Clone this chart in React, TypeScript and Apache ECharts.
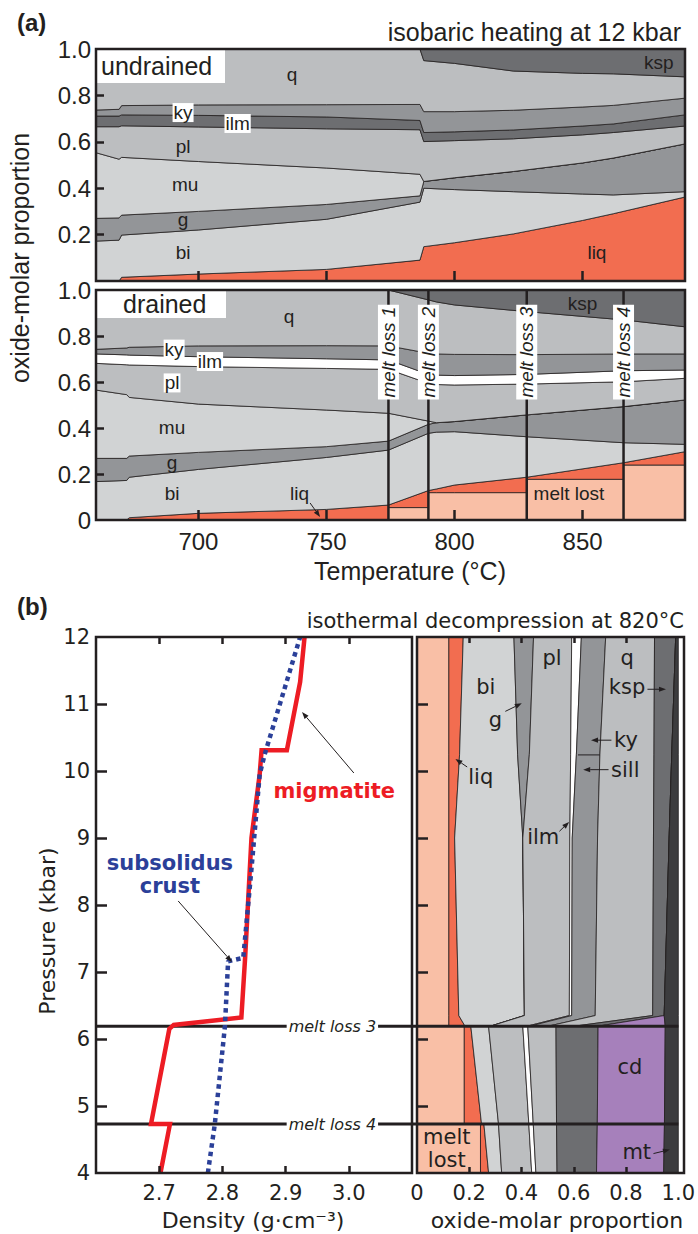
import React, { useEffect, useRef } from "react";
import * as echarts from "echarts";

// ================= (a) isobaric heating at 12 kbar — undrained =================
const T_UNDRAINED = [660, 669, 670, 700, 750, 786.5, 788, 800, 823, 850, 862, 890];
const UND_LIQ = [0, 0, 0.016, 0.03, 0.05, 0.09, 0.148, 0.165, 0.203, 0.261, 0.29, 0.362];
const UND_BI = [0.172, 0.176, 0.198, 0.22, 0.266, 0.34, 0.4, 0.394, 0.385, 0.375, 0.371, 0.385];
const UND_G = [0.27, 0.272, 0.284, 0.3, 0.33, 0.367, 0.429, 0.445, 0.472, 0.509, 0.53, 0.591];
const UND_MU = [0.553, 0.525, 0.533, 0.515, 0.487, 0.46, 0.429, 0.445, 0.472, 0.509, 0.53, 0.591];
const UND_PL = [0.665, 0.665, 0.669, 0.664, 0.656, 0.652, 0.601, 0.605, 0.613, 0.63, 0.64, 0.668];
const UND_ILM = [0.711, 0.711, 0.716, 0.714, 0.707, 0.692, 0.64, 0.643, 0.651, 0.668, 0.677, 0.716];
const UND_KY = [0.737, 0.74, 0.756, 0.759, 0.76, 0.761, 0.73, 0.73, 0.736, 0.75, 0.757, 0.788];
const UND_Q = [1, 1, 1, 1, 1, 1, 0.95, 0.938, 0.905, 0.895, 0.893, 0.88];
const UND_KSP = [1, 1, 1, 1, 1, 1, 1, 1, 1, 1, 1, 1];

// ================= (a) drained =================
const T_DRAINED = [660, 672, 673, 700, 750, 774.2, 774.2, 789.8, 789.8, 793, 800, 828.2, 828.2, 866, 866, 890];
const DR_LOST = [0, 0, 0, 0, 0, 0, 0.054, 0.054, 0.119, 0.119, 0.119, 0.119, 0.177, 0.177, 0.239, 0.239];
const DR_LIQ = [0, 0, 0.01, 0.029, 0.046, 0.065, 0.065, 0.128, 0.128, 0.135, 0.152, 0.186, 0.186, 0.249, 0.249, 0.297];
const DR_BI = [0.167, 0.172, 0.186, 0.22, 0.272, 0.304, 0.304, 0.377, 0.377, 0.382, 0.384, 0.362, 0.362, 0.336, 0.336, 0.329];
const DR_G = [0.268, 0.268, 0.278, 0.294, 0.319, 0.343, 0.343, 0.416, 0.416, 0.423, 0.428, 0.457, 0.457, 0.493, 0.493, 0.522];
const DR_MU = [0.565, 0.545, 0.533, 0.504, 0.478, 0.464, 0.464, 0.43, 0.43, 0.423, 0.428, 0.457, 0.457, 0.493, 0.493, 0.522];
const DR_PL = [0.681, 0.675, 0.674, 0.667, 0.659, 0.655, 0.655, 0.594, 0.594, 0.589, 0.587, 0.591, 0.591, 0.601, 0.601, 0.616];
const DR_ILM = [0.722, 0.718, 0.717, 0.71, 0.701, 0.696, 0.696, 0.633, 0.633, 0.63, 0.628, 0.633, 0.633, 0.649, 0.649, 0.652];
const DR_KY = [0.742, 0.748, 0.751, 0.757, 0.758, 0.757, 0.757, 0.725, 0.725, 0.722, 0.72, 0.719, 0.719, 0.722, 0.722, 0.722];
const DR_Q = [1, 1, 1, 1, 1, 1, 1, 0.957, 0.957, 0.948, 0.935, 0.906, 0.906, 0.87, 0.87, 0.84];
const DR_KSP = [1, 1, 1, 1, 1, 1, 1, 1, 1, 1, 1, 1, 1, 1, 1, 1];
const MELT_LOSS_T = [774.2, 789.8, 828.2, 866];
const MELT_LOSS_T_NAMES = ["melt loss 1", "melt loss 2", "melt loss 3", "melt loss 4"];

// ================= (b) density profiles =================
const MIG_DENSITY = [2.702, 2.717, 2.687, 2.716, 2.723, 2.83, 2.836, 2.846, 2.859, 2.862, 2.902, 2.923, 2.93];
const MIG_PRESSURE = [4.0, 4.73, 4.73, 6.15, 6.21, 6.32, 7.22, 9.0, 9.95, 10.31, 10.31, 11.33, 12.0];
const SUB_DENSITY = [2.777, 2.788, 2.804, 2.809, 2.833, 2.846, 2.859, 2.867, 2.923];
const SUB_PRESSURE = [4.0, 4.73, 6.19, 7.16, 7.21, 8.54, 9.95, 10.25, 12.0];
const MELT_LOSS_P = [6.19, 4.73];
const MELT_LOSS_P_NAMES = ["melt loss 3", "melt loss 4"];

// ================= (b) isothermal decompression — proportions =================
const P_UPPER = [12, 10.25, 9.0, 6.35, 6.19];
const UP_LOST = [0.122, 0.122, 0.122, 0.122, 0.122];
const UP_LIQ = [0.177, 0.163, 0.144, 0.16, 0.184];
const UP_BI = [0.371, 0.385, 0.405, 0.411, 0.28];
const UP_G = [0.446, 0.43, 0.405, 0.411, 0.28];
const UP_PL = [0.592, 0.588, 0.585, 0.583, 0.42];
const UP_ILM = [0.629, 0.61, 0.594, 0.592, 0.43];
const UP_KY = [0.722, 0.7, 0.691, 0.682, 0.5];
const UP_Q = [0.909, 0.907, 0.905, 0.902, 0.6];
const UP_KSP = [0.99, 0.975, 0.965, 0.946, 0.69];
const UP_CD = [0.99, 0.975, 0.965, 0.946, 0.95];
const UP_MT = [1, 1, 1, 1, 1];

const P_LOWER = [6.19, 4.73, 4.73, 4.0];
const LO_LOST = [0.181, 0.181, 0.243, 0.243];
const LO_LIQ = [0.206, 0.247, 0.256, 0.274];
const LO_BI = [0.274, 0.312, 0.312, 0.324];
const LO_PL = [0.405, 0.428, 0.428, 0.439];
const LO_ILM = [0.424, 0.445, 0.445, 0.455];
const LO_Q = [0.532, 0.534, 0.534, 0.536];
const LO_KSP = [0.693, 0.69, 0.69, 0.687];
const LO_CD = [0.95, 0.947, 0.947, 0.944];
const LO_MT = [1, 1, 1, 1];
const KY_SILL_P = 10.24;

// ticks
const T_TICKS = [700, 750, 800, 850];
const PROP_TICKS = [0.2, 0.4, 0.6, 0.8];
const PROP_LABELS = [0, 0.2, 0.4, 0.6, 0.8, 1.0];
const DENSITY_TICKS = [2.7, 2.8, 2.9, 3.0];
const P_TICKS = [5, 6, 7, 8, 9, 10, 11];
const P_LABELS = [4, 5, 6, 7, 8, 9, 10, 11, 12];

// ---------- styling ----------
const INK = "#231f20";
const FA = '"Liberation Sans", Arial, sans-serif';
const FB = '"DejaVu Sans", sans-serif';
const COL = {
  lost: "#f9bfa6",
  liq: "#f26d50",
  bi: "#d1d3d4",
  mu: "#d1d3d4",
  g: "#939598",
  ky: "#939598",
  pl: "#bcbec0",
  q: "#bcbec0",
  ilmDark: "#6d6e71",
  white: "#ffffff",
  ksp: "#6d6e71",
  cd: "#a680bb",
  mt: "#3c3c3e",
  red: "#ed1c24",
  blue: "#2b4099",
};

const G0 = { left: 96, top: 49, width: 589, height: 232 };
const G1 = { left: 96, top: 290, width: 589, height: 230 };
const G2 = { left: 96, top: 637, width: 316, height: 536 };
const G3 = { left: 417, top: 637, width: 267, height: 536 };

function bandSeries(xi: number, yi: number, axisVals: number[], tops: number[][], colors: string[], vertical: boolean) {
  return {
    type: "custom",
    xAxisIndex: xi,
    yAxisIndex: yi,
    clip: true,
    silent: true,
    z: 2,
    data: tops.map((_, i) => (vertical ? [0, axisVals[0], i] : [axisVals[0], 0, i])),
    renderItem: (params: any, api: any) => {
      const i = params.dataIndex;
      const lower = i === 0 ? axisVals.map(() => 0) : tops[i - 1];
      const upper = tops[i];
      const pt = (v: number, a: number) => api.coord(vertical ? [v, a] : [a, v]);
      const pts: number[][] = [];
      for (let j = 0; j < axisVals.length; j++) pts.push(pt(lower[j], axisVals[j]));
      for (let j = axisVals.length - 1; j >= 0; j--) pts.push(pt(upper[j], axisVals[j]));
      return {
        type: "polygon",
        shape: { points: pts },
        style: { fill: colors[i], stroke: INK, lineWidth: 0.8 },
      };
    },
  };
}

function valueAxis(gridIndex: number, min: number, max: number, o: any) {
  return {
    type: "value",
    gridIndex,
    min,
    max,
    z: 10,
    position: o.position,
    axisLine: { show: false },
    splitLine: { show: false },
    axisTick: {
      show: true,
      inside: true,
      length: o.tickLen,
      lineStyle: { color: INK, width: 2.5 },
      customValues: o.ticks,
    },
    axisLabel: o.labels
      ? {
          show: true,
          customValues: o.labels,
          formatter: o.formatter,
          color: INK,
          fontSize: o.fontSize,
          fontFamily: o.fontFamily,
          margin: o.margin,
        }
      : { show: false },
  };
}

const fmt1 = (v: number) => (v === 0 ? "0" : v.toFixed(1));

export default function App() {
  const ref = useRef<HTMLDivElement>(null);
  useEffect(() => {
    document.body.style.margin = "0";
    const chart = echarts.init(ref.current!, null, { renderer: "svg" });
    const option: any = {
      animation: false,
      grid: [G0, G1, G2, G3].map((g) => ({ ...g, containLabel: false })),
      xAxis: [
        valueAxis(0, 660, 890, { position: "bottom", tickLen: 10, ticks: T_TICKS }),
        valueAxis(1, 660, 890, {
          position: "bottom", tickLen: 10, ticks: T_TICKS, labels: T_TICKS,
          fontSize: 24, fontFamily: FA, margin: 9, formatter: (v: number) => String(v),
        }),
        valueAxis(2, 2.6, 3.1, {
          position: "bottom", tickLen: 7, ticks: DENSITY_TICKS, labels: DENSITY_TICKS,
          fontSize: 21, fontFamily: FB, margin: 9, formatter: (v: number) => v.toFixed(1),
        }),
        valueAxis(2, 2.6, 3.1, { position: "top", tickLen: 7, ticks: DENSITY_TICKS }),
        valueAxis(3, 0, 1, {
          position: "bottom", tickLen: 6, ticks: PROP_TICKS, labels: PROP_LABELS,
          fontSize: 21, fontFamily: FB, margin: 9, formatter: fmt1,
        }),
        valueAxis(3, 0, 1, { position: "top", tickLen: 6, ticks: PROP_TICKS }),
      ],
      yAxis: [
        valueAxis(0, 0, 1, {
          position: "left", tickLen: 8, ticks: PROP_TICKS, labels: [0.2, 0.4, 0.6, 0.8, 1.0],
          fontSize: 24, fontFamily: FA, margin: 5, formatter: fmt1,
        }),
        valueAxis(1, 0, 1, {
          position: "left", tickLen: 8, ticks: PROP_TICKS, labels: PROP_LABELS,
          fontSize: 24, fontFamily: FA, margin: 5, formatter: fmt1,
        }),
        valueAxis(2, 4, 12, {
          position: "left", tickLen: 11, ticks: P_TICKS, labels: P_LABELS,
          fontSize: 21, fontFamily: FB, margin: 6, formatter: (v: number) => String(v),
        }),
        valueAxis(3, 4, 12, { position: "left", tickLen: 11, ticks: P_TICKS }),
      ],
      series: [
        bandSeries(0, 0, T_UNDRAINED,
          [UND_LIQ, UND_BI, UND_G, UND_MU, UND_PL, UND_ILM, UND_KY, UND_Q, UND_KSP],
          [COL.liq, COL.bi, COL.g, COL.mu, COL.pl, COL.ilmDark, COL.ky, COL.q, COL.ksp], false),
        bandSeries(1, 1, T_DRAINED,
          [DR_LOST, DR_LIQ, DR_BI, DR_G, DR_MU, DR_PL, DR_ILM, DR_KY, DR_Q, DR_KSP],
          [COL.lost, COL.liq, COL.bi, COL.g, COL.mu, COL.pl, COL.white, COL.ky, COL.q, COL.ksp], false),
        bandSeries(4, 3, P_UPPER,
          [UP_LOST, UP_LIQ, UP_BI, UP_G, UP_PL, UP_ILM, UP_KY, UP_Q, UP_KSP, UP_CD, UP_MT],
          [COL.lost, COL.liq, COL.bi, COL.g, COL.pl, COL.white, COL.ky, COL.q, COL.ksp, COL.cd, COL.mt], true),
        bandSeries(4, 3, P_LOWER,
          [LO_LOST, LO_LIQ, LO_BI, LO_PL, LO_ILM, LO_Q, LO_KSP, LO_CD, LO_MT],
          [COL.lost, COL.liq, COL.bi, COL.pl, COL.white, COL.q, COL.ksp, COL.cd, COL.mt], true),
        {
          type: "line", xAxisIndex: 2, yAxisIndex: 2, z: 6, clip: true, silent: true,
          showSymbol: false, symbol: "none",
          data: MIG_DENSITY.map((d, i) => [d, MIG_PRESSURE[i]]),
          lineStyle: { color: COL.red, width: 4.5, join: "miter" },
        },
        {
          type: "line", xAxisIndex: 2, yAxisIndex: 2, z: 7, clip: true, silent: true,
          showSymbol: false, symbol: "none",
          data: SUB_DENSITY.map((d, i) => [d, SUB_PRESSURE[i]]),
          lineStyle: { color: COL.blue, width: 4.5, type: [4.5, 4], cap: "butt" },
        },
      ],
    };
    chart.setOption(option);

    const px = (xi: number, yi: number, x: number, y: number) =>
      chart.convertToPixel({ xAxisIndex: xi, yAxisIndex: yi } as any, [x, y]) as number[];

    const text = (x: number, y: number, s: string, o: any = {}) => ({
      type: "text",
      x, y,
      z: o.z ?? 30,
      rotation: o.rotation ?? 0,
      silent: true,
      style: {
        text: s,
        fill: o.color ?? INK,
        fontSize: o.size ?? 19,
        fontFamily: o.family ?? FA,
        fontWeight: o.weight ?? "normal",
        fontStyle: o.style ?? "normal",
        align: o.align ?? "center",
        verticalAlign: "middle",
        textAlign: o.align ?? "center",
        textVerticalAlign: "middle",
        backgroundColor: o.bg,
        padding: o.pad,
      },
    });
    const arrow = (a: number[], b: number[], color = INK) => {
      const ang = Math.atan2(b[1] - a[1], b[0] - a[0]);
      const L = 7, W = 2.6;
      const bx = b[0] - L * Math.cos(ang), by = b[1] - L * Math.sin(ang);
      return [
        { type: "line", z: 30, silent: true, shape: { x1: a[0], y1: a[1], x2: bx, y2: by }, style: { stroke: color, lineWidth: 1 } },
        {
          type: "polygon", z: 30, silent: true,
          shape: { points: [[b[0], b[1]], [bx - W * Math.sin(ang), by + W * Math.cos(ang)], [bx + W * Math.sin(ang), by - W * Math.cos(ang)]] },
          style: { fill: color },
        },
      ];
    };

    const g: any[] = [];
    // frames
    [G0, G1, G2, G3].forEach((r) =>
      g.push({ type: "rect", z: 40, silent: true, shape: { x: r.left, y: r.top, width: r.width, height: r.height }, style: { fill: "none", stroke: INK, lineWidth: 2.5 } })
    );

    // titles
    g.push(text(17, 22, "(a)", { size: 24, weight: "bold", align: "left" }));
    g.push(text(681, 32, "isobaric heating at 12 kbar", { size: 25, align: "right" }));
    g.push(text(17, 606, "(b)", { size: 24, weight: "bold", align: "left" }));
    g.push(text(684, 621, "isothermal decompression at 820°C", { size: 21, family: FB, align: "right" }));
    // axis names
    g.push(text(20, 258, "oxide-molar proportion", { size: 25, rotation: Math.PI / 2 }));
    g.push(text(410, 571, "Temperature (°C)", { size: 25 }));
    g.push(text(47, 931, "Pressure (kbar)", { size: 22, family: FB, rotation: Math.PI / 2 }));
    g.push(text(253, 1220, "Density (g·cm⁻³)", { size: 22, family: FB }));
    g.push(text(557, 1220, "oxide-molar proportion", { size: 22, family: FB }));

    // panel tags
    g.push({ type: "rect", z: 35, silent: true, shape: { x: G0.left, y: G0.top, width: 129, height: 34 }, style: { fill: "#fff" } });
    g.push(text(G0.left + 5, G0.top + 17, "undrained", { size: 25, align: "left", z: 36 }));
    g.push({ type: "rect", z: 35, silent: true, shape: { x: G1.left, y: G1.top, width: 130, height: 28 }, style: { fill: "#fff" } });
    g.push(text(G1.left + 27, G1.top + 14, "drained", { size: 25, align: "left", z: 36 }));

    // undrained labels
    const UL: [string, number, number, boolean][] = [
      ["q", 736.5, 0.888, false], ["ky", 694, 0.726, true], ["ilm", 715.3, 0.679, true],
      ["pl", 694, 0.578, false], ["mu", 694.8, 0.414, false], ["g", 694, 0.263, false],
      ["bi", 694, 0.125, false], ["liq", 855.6, 0.125, false], ["ksp", 879.8, 0.94, false],
    ];
    UL.forEach(([s, x, y, box]) => {
      const p = px(0, 0, x, y);
      g.push(text(p[0], p[1], s, { bg: box ? "#fff" : undefined, pad: box ? [0, 1] : undefined }));
    });
    // drained labels
    const DL: [string, number, number, boolean][] = [
      ["q", 735.4, 0.883, false], ["ky", 690.5, 0.743, true], ["ilm", 704.5, 0.689, true],
      ["pl", 689.7, 0.596, true], ["mu", 689.7, 0.404, false], ["g", 689.7, 0.248, false],
      ["bi", 689.7, 0.117, false], ["liq", 739.5, 0.117, false], ["melt lost", 844.7, 0.117, false],
      ["ksp", 850, 0.943, false],
    ];
    DL.forEach(([s, x, y, box]) => {
      const p = px(1, 1, x, y);
      g.push(text(p[0], p[1], s, { bg: box ? "#fff" : undefined, pad: box ? [0, 1] : undefined }));
    });
    g.push(...arrow(px(1, 1, 743.6, 0.074), px(1, 1, 747.5, 0.013)));

    // melt-loss vertical lines (drained)
    MELT_LOSS_T.forEach((t, i) => {
      const a = px(1, 1, t, 1), b = px(1, 1, t, 0);
      g.push({ type: "line", z: 25, silent: true, shape: { x1: a[0], y1: a[1], x2: b[0], y2: b[1] }, style: { stroke: INK, lineWidth: 2.5 } });
      const c = px(1, 1, t, 0.73);
      g.push(text(c[0], c[1], MELT_LOSS_T_NAMES[i], { style: "italic", size: 19, rotation: Math.PI / 2, bg: "#fff", pad: [1, 2], z: 26 }));
    });

    // melt-loss horizontal lines (b)
    MELT_LOSS_P.forEach((p, i) => {
      const a = px(2, 2, 2.6, p), b = px(4, 3, 1, p);
      g.push({ type: "line", z: 4, silent: true, shape: { x1: a[0], y1: a[1], x2: b[0], y2: a[1] }, style: { stroke: INK, lineWidth: 3 } });
      const c = px(2, 2, 2.974, p);
      g.push(text(c[0], c[1], MELT_LOSS_P_NAMES[i], { style: "italic", size: 16, family: FB, bg: "#fff", pad: [0, 2], z: 5 }));
    });

    // density annotations
    const m = px(2, 2, 2.977, 9.7);
    g.push(text(m[0], m[1], "migmatite", { size: 21, family: FB, weight: "bold", color: COL.red }));
    g.push(...arrow(px(2, 2, 3.008, 9.97), px(2, 2, 2.926, 10.88)));
    const s1 = px(2, 2, 2.717, 8.63), s2 = px(2, 2, 2.717, 8.29);
    g.push(text(s1[0], s1[1], "subsolidus", { size: 21, family: FB, weight: "bold", color: COL.blue }));
    g.push(text(s2[0], s2[1], "crust", { size: 21, family: FB, weight: "bold", color: COL.blue }));
    g.push(...arrow(px(2, 2, 2.73, 8.06), px(2, 2, 2.815, 7.15)));

    // proportion panel labels
    const BL: [string, number, number][] = [
      ["bi", 0.263, 11.26], ["g", 0.3, 10.76], ["pl", 0.517, 11.68], ["q", 0.804, 11.68],
      ["ksp", 0.804, 11.25], ["ky", 0.8, 10.46], ["sill", 0.797, 10.02], ["liq", 0.244, 9.91],
      ["ilm", 0.483, 9.01], ["cd", 0.815, 5.58], ["melt", 0.114, 4.54], ["lost", 0.114, 4.2],
      ["mt", 0.841, 4.32],
    ];
    BL.forEach(([s, x, y]) => {
      const p = px(4, 3, x, y);
      g.push(text(p[0], p[1], s, { size: 21, family: FB }));
    });
    const BA: number[][] = [
      [0.338, 10.89, 0.401, 11.01], [0.882, 11.22, 0.953, 11.22], [0.744, 10.46, 0.666, 10.46],
      [0.733, 10.02, 0.636, 10.02], [0.192, 10.06, 0.147, 10.18], [0.545, 9.1, 0.582, 9.24],
      [0.905, 4.29, 0.968, 4.35],
    ];
    BA.forEach(([x1, y1, x2, y2]) => g.push(...arrow(px(4, 3, x1, y1), px(4, 3, x2, y2))));
    const k1 = px(4, 3, 0.616, KY_SILL_P), k2 = px(4, 3, 0.7, KY_SILL_P);
    g.push({ type: "line", z: 20, silent: true, shape: { x1: k1[0], y1: k1[1], x2: k2[0], y2: k2[1] }, style: { stroke: INK, lineWidth: 1 } });

    chart.setOption({ graphic: { elements: g } });
    return () => chart.dispose();
  }, []);
  return <div ref={ref} style={{ width: 698, height: 1234 }} />;
}
